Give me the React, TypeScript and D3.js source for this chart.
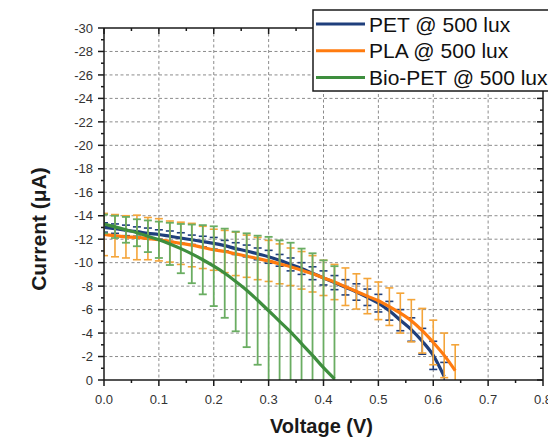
import React from "react";
import * as d3 from "d3";

const voltsPET = [0, 0.02, 0.04, 0.06, 0.08, 0.1, 0.12, 0.14, 0.16, 0.18, 0.2, 0.22, 0.24, 0.26, 0.28, 0.3, 0.32, 0.34, 0.36, 0.38, 0.4, 0.42, 0.44, 0.46, 0.48, 0.5, 0.52, 0.54, 0.56, 0.58, 0.6, 0.62];
const currentPET = [-13.0, -12.9, -12.75, -12.65, -12.5, -12.4, -12.25, -12.1, -11.95, -11.8, -11.65, -11.45, -11.2, -11.0, -10.75, -10.5, -10.2, -9.85, -9.5, -9.1, -8.7, -8.3, -7.9, -7.5, -7.05, -6.55, -5.9, -5.1, -4.3, -3.3, -2.1, -0.3];
const errPET = [0.4, 0.4, 0.45, 0.4, 0.45, 0.4, 0.45, 0.45, 0.4, 0.45, 0.5, 0.45, 0.5, 0.5, 0.5, 0.55, 0.5, 0.55, 0.5, 0.55, 0.6, 0.6, 0.65, 0.7, 0.7, 0.75, 0.8, 0.9, 1.0, 1.1, 1.2, 1.2];

const voltsPLA = [0, 0.02, 0.04, 0.06, 0.08, 0.1, 0.12, 0.14, 0.16, 0.18, 0.2, 0.22, 0.24, 0.26, 0.28, 0.3, 0.32, 0.34, 0.36, 0.38, 0.4, 0.42, 0.44, 0.46, 0.48, 0.5, 0.52, 0.54, 0.56, 0.58, 0.6, 0.62, 0.64];
const currentPLA = [-12.4, -12.3, -12.2, -12.15, -12.05, -11.95, -11.8, -11.65, -11.5, -11.3, -11.1, -10.95, -10.75, -10.55, -10.35, -10.15, -9.9, -9.65, -9.35, -9.05, -8.7, -8.35, -7.95, -7.55, -7.15, -6.75, -6.25, -5.7, -5.05, -4.2, -3.2, -2.1, -0.8];
const errPLA = [1.8, 1.8, 1.8, 1.9, 1.8, 1.8, 1.75, 1.8, 1.85, 1.8, 1.75, 1.8, 1.85, 1.8, 1.8, 1.75, 1.7, 1.6, 1.6, 1.55, 1.5, 1.5, 1.6, 1.5, 1.5, 1.6, 1.6, 1.7, 1.8, 1.9, 1.9, 1.9, 2.2];

const voltsBio = [0, 0.02, 0.04, 0.06, 0.08, 0.1, 0.12, 0.14, 0.16, 0.18, 0.2, 0.22, 0.24, 0.26, 0.28, 0.3, 0.32, 0.34, 0.36, 0.38, 0.4, 0.42];
const currentBio = [-13.3, -13.05, -12.8, -12.55, -12.25, -11.95, -11.6, -11.2, -10.75, -10.25, -9.7, -9.1, -8.4, -7.65, -6.8, -5.9, -5.0, -4.1, -3.1, -2.1, -1.05, -0.1];
const errBio = [0.8, 0.95, 1.1, 1.15, 1.35, 1.55, 1.8, 2.1, 2.5, 2.95, 3.4, 3.8, 4.25, 4.85, 5.5, 6.3, 6.9, 7.6, 8.1, 8.7, 9.15, 9.6];

const seriesNames = ["PET @ 500 lux", "PLA @ 500 lux", "Bio-PET @ 500 lux"];
const xTicks = [0, 0.1, 0.2, 0.3, 0.4, 0.5, 0.6, 0.7, 0.8];
const xMinorTicks = [0.05, 0.15, 0.25, 0.35, 0.45, 0.55, 0.65, 0.75];
const yTicks = [0, -2, -4, -6, -8, -10, -12, -14, -16, -18, -20, -22, -24, -26, -28, -30];
const yMinorTicks = [-1, -3, -5, -7, -9, -11, -13, -15, -17, -19, -21, -23, -25, -27, -29];

const W = 548, H = 439;
const L = 104, R = 543, T = 28, B = 380;

export default function App() {
  const x = d3.scaleLinear().domain([0, 0.8]).range([L, R]);
  const y = d3.scaleLinear().domain([0, -30]).range([B, T]);

  const series = [
    { v: voltsPET, c: currentPET, e: errPET, line: "#1f3f7c", err: "#1f3f7c", errW: 1.6 },
    { v: voltsPLA, c: currentPLA, e: errPLA, line: "#ff7b0f", err: "#f4a53a", errW: 1.6 },
    { v: voltsBio, c: currentBio, e: errBio, line: "#3e8e3e", err: "#6aad62", errW: 1.8 },
  ];

  const lineGen = (vs: number[], cs: number[]) =>
    d3.line<number>().x((_, i) => x(vs[i])).y((d) => y(d)).curve(d3.curveMonotoneX)(cs) || "";

  const font = "Liberation Sans, Arial, sans-serif";
  const gridColor = "#8c8c8c";

  return (
    <svg width={W} height={H} style={{ position: "absolute", left: 0, top: 0, background: "#fff" }} fontFamily={font}>
      <defs>
        <clipPath id="plot">
          <rect x={L} y={T} width={R - L} height={B - T} />
        </clipPath>
      </defs>
      {/* grid */}
      <g stroke={gridColor} strokeWidth={1} strokeDasharray="3,2.5">
        {yTicks.filter((t) => t !== 0 && t !== -30).map((t) => (
          <line key={"gy" + t} x1={L} x2={R} y1={y(t)} y2={y(t)} />
        ))}
        {xTicks.filter((t) => t !== 0 && t !== 0.8).map((t) => (
          <line key={"gx" + t} x1={x(t)} x2={x(t)} y1={T} y2={B} />
        ))}
      </g>

      {/* data */}
      <g clipPath="url(#plot)">
        {series.map((s, si) => (
          <g key={"s" + si}>
            <g stroke={s.err} strokeWidth={s.errW}>
              {s.c.map((c, i) => {
                const cx = x(s.v[i]);
                const y1 = y(c - s.e[i]);
                const y2 = y(c + s.e[i]);
                return (
                  <g key={i}>
                    <line x1={cx} x2={cx} y1={y1} y2={y2} />
                    <line x1={cx - 4} x2={cx + 4} y1={y1} y2={y1} />
                    <line x1={cx - 4} x2={cx + 4} y1={y2} y2={y2} />
                  </g>
                );
              })}
            </g>
            <path d={lineGen(s.v, s.c)} fill="none" stroke={s.line} strokeWidth={3.2} />
          </g>
        ))}
      </g>

      {/* axes frame */}
      <g stroke="#1a1a1a" strokeWidth={1.5} fill="none">
        <line x1={L} x2={R} y1={B} y2={B} />
        <line x1={L} x2={R} y1={T} y2={T} />
        <line x1={L} x2={L} y1={T} y2={B} />
        <line x1={R} x2={R} y1={T} y2={B} />
        {/* bottom ticks outward */}
        {xTicks.map((t) => (
          <line key={"bt" + t} x1={x(t)} x2={x(t)} y1={B} y2={B + 6} />
        ))}
        {xMinorTicks.map((t) => (
          <line key={"bm" + t} x1={x(t)} x2={x(t)} y1={B} y2={B + 3} />
        ))}
        {/* top ticks inward */}
        {xTicks.map((t) => (
          <line key={"tt" + t} x1={x(t)} x2={x(t)} y1={T} y2={T + 6} />
        ))}
        {xMinorTicks.map((t) => (
          <line key={"tm" + t} x1={x(t)} x2={x(t)} y1={T} y2={T + 3} />
        ))}
        {/* left ticks outward */}
        {yTicks.map((t) => (
          <line key={"lt" + t} x1={L - 6} x2={L} y1={y(t)} y2={y(t)} />
        ))}
        {yMinorTicks.map((t) => (
          <line key={"lm" + t} x1={L - 3} x2={L} y1={y(t)} y2={y(t)} />
        ))}
        {/* right ticks inward */}
        {yTicks.map((t) => (
          <line key={"rt" + t} x1={R - 6} x2={R} y1={y(t)} y2={y(t)} />
        ))}
        {yMinorTicks.map((t) => (
          <line key={"rm" + t} x1={R - 3} x2={R} y1={y(t)} y2={y(t)} />
        ))}
      </g>

      {/* tick labels */}
      <g fill="#333" fontSize={13}>
        {yTicks.map((t) => (
          <text key={"yl" + t} x={L - 11} y={y(t)} dy="0.36em" textAnchor="end">
            {t === 0 ? "0" : "-" + Math.abs(t)}
          </text>
        ))}
        {xTicks.map((t) => (
          <text key={"xl" + t} x={x(t)} y={404} textAnchor="middle">
            {d3.format(".1f")(t)}
          </text>
        ))}
      </g>

      {/* axis titles */}
      <text x={x(0.4) - 2} y={433} textAnchor="middle" fontWeight="bold" fontSize={20} fill="#1a1a1a">
        Voltage (V)
      </text>
      <text
        transform={`translate(46, 229) rotate(-90)`}
        textAnchor="middle"
        fontWeight="bold"
        fontSize={21}
        fill="#1a1a1a"
      >
        Current (μA)
      </text>

      {/* legend */}
      <rect x={313} y={10} width={260} height={81} fill="#fff" stroke="#1a1a1a" strokeWidth={1.5} />
      {seriesNames.map((name, i) => (
        <g key={name}>
          <line x1={316} x2={365} y1={24 + i * 26.7} y2={24 + i * 26.7} stroke={series[i].line} strokeWidth={3} />
          <text x={369} y={31.5 + i * 26.7} fontSize={21} fill="#111">
            {name}
          </text>
        </g>
      ))}
    </svg>
  );
}
